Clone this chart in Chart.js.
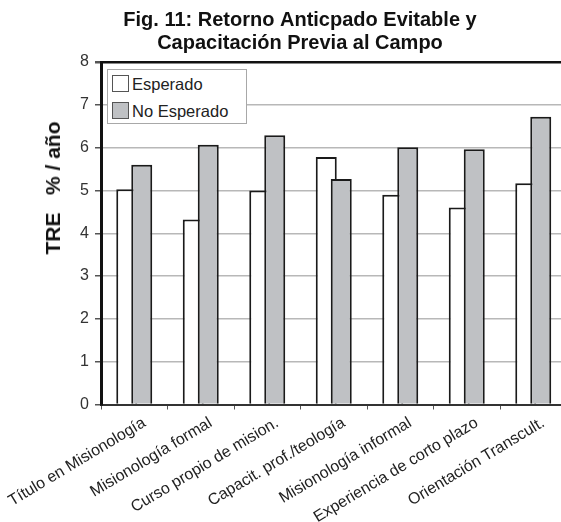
<!DOCTYPE html>
<html>
<head>
<meta charset="utf-8">
<script src="https://cdn.jsdelivr.net/npm/chart.js@4"></script>
<style>
  html, body { margin: 0; padding: 0; background: #fff; overflow: hidden; }
  #wrap { position: relative; width: 561px; height: 522px; overflow: hidden; }
  #ChartDetail { position: absolute; left: 0; top: 0; }
  #ytitle {
    position: absolute; left: 53px; top: 188px;
    transform: translate(-50%, -50%) rotate(-90deg);
    font: bold 21px "Liberation Sans", Arial, sans-serif; color: #111;
    white-space: pre;
  }
  #legend {
    position: absolute; left: 107px; top: 69px; width: 140px; height: 55px;
    box-sizing: border-box; border: 1.5px solid #a8a8a8; background: #fff;
    font: 16.5px "Liberation Sans", Arial, sans-serif; color: #222;
  }
  #legend .item { position: absolute; left: 4px; height: 18px; line-height: 18px; white-space: nowrap; }
  #legend .box { display: inline-block; width: 17px; height: 17px; box-sizing: border-box;
    border: 1px solid #555; vertical-align: top; margin-right: 3px; }
</style>
</head>
<body>
<div id="wrap">
  <canvas id="ChartDetail" width="600" height="522" style="width:600px;height:522px"></canvas>
  <div id="ytitle">TRE   % / año</div>
  <div id="legend"></div>
</div>
<script>
var categories = [
    'Título en Misionología',
    'Misionología formal',
    'Curso propio de mision.',
    'Capacit. prof./teología',
    'Misionología informal',
    'Experiencia de corto plazo',
    'Orientación Transcult.'
];
var esperado   = [5.03, 4.32, 5.00, 5.78, 4.90, 4.60, 5.17];
var noEsperado = [5.60, 6.07, 6.29, 5.27, 6.01, 5.96, 6.72];
var seriesNames = ['Esperado', 'No Esperado'];
var yTicks = [0, 1, 2, 3, 4, 5, 6, 7, 8];

var fillColors = ['#ffffff', '#bfc1c4'];

// html legend, boxed like the original
var legendEl = document.getElementById('legend');
seriesNames.forEach(function(name, i) {
    var it = document.createElement('div');
    it.className = 'item';
    it.style.top = (5 + i * 27) + 'px';
    it.innerHTML = '<span class="box" style="background:' + fillColors[i] + '"></span>' + name;
    legendEl.appendChild(it);
});

// gray bars are drawn over the white ones (overlapping columns)
var grayOnTop = {
    id: 'grayOnTop',
    beforeDatasetDraw: function(chart, args) {
        if (args.index === 1) return false;
    },
    afterDatasetsDraw: function(chart) {
        chart.getDatasetMeta(1).controller.draw();
    }
};

var config = {
    type: 'bar',
    data: {
        labels: categories,
        datasets: [{
            label: seriesNames[0],
            data: esperado,
            backgroundColor: fillColors[0],
            borderColor: '#1a1a1a',
            borderWidth: 2,
            borderSkipped: 'start',
            categoryPercentage: 0.451,
            barPercentage: 1.4
        }, {
            label: seriesNames[1],
            data: noEsperado,
            backgroundColor: fillColors[1],
            borderColor: '#1a1a1a',
            borderWidth: 2,
            borderSkipped: 'start',
            categoryPercentage: 0.451,
            barPercentage: 1.4
        }]
    },
    options: {
        responsive: false,
        animation: false,
        layout: { padding: { left: 33.5, right: 33.5, top: 0, bottom: 0 } },
        plugins: {
            legend: { display: false },
            tooltip: { enabled: false },
            title: {
                display: true,
                text: ['Fig. 11: Retorno Anticpado Evitable y', 'Capacitación Previa al Campo'],
                color: '#111',
                font: { family: 'Liberation Sans', size: 20, weight: 'bold', lineHeight: 1.15 },
                padding: { top: 8.5, bottom: 7.5 }
            }
        },
        scales: {
            x: {
                afterFit: function(scale) {
                    scale.height = 117.5;
                    scale.paddingLeft = 0;
                    scale.paddingRight = 0;
                },
                grid: {
                    drawOnChartArea: false,
                    drawTicks: true,
                    tickLength: 5,
                    tickColor: '#555',
                    offset: true
                },
                border: { color: '#333', width: 2 },
                ticks: {
                    color: '#222',
                    font: { family: 'Liberation Sans', size: 16 },
                    minRotation: 31,
                    maxRotation: 31,
                    padding: 4,
                    labelOffset: 10,
                    autoSkip: false
                }
            },
            y: {
                min: 0,
                max: 8,
                afterFit: function(scale) { scale.width = 67.5; },
                afterBuildTicks: function(scale) {
                    scale.ticks = yTicks.map(function(v) { return { value: v }; });
                },
                grid: {
                    color: function(c) {
                        if (c.tick && c.tick.value === 8) return '#111';
                        return '#b8b8b8';
                    },
                    lineWidth: function(c) {
                        if (c.tick && c.tick.value === 8) return 2.5;
                        return 1.5;
                    },
                    tickColor: '#555',
                    tickLength: 6
                },
                border: { color: '#111', width: 3 },
                ticks: {
                    color: '#333',
                    font: { family: 'Liberation Sans', size: 16 },
                    padding: 6
                }
            }
        }
    },
    plugins: [grayOnTop]
};

window.onload = function() {
    var ctx = document.getElementById('ChartDetail').getContext('2d');
    window.myBar = new Chart(ctx, config);
};
</script>
</body>
</html>
